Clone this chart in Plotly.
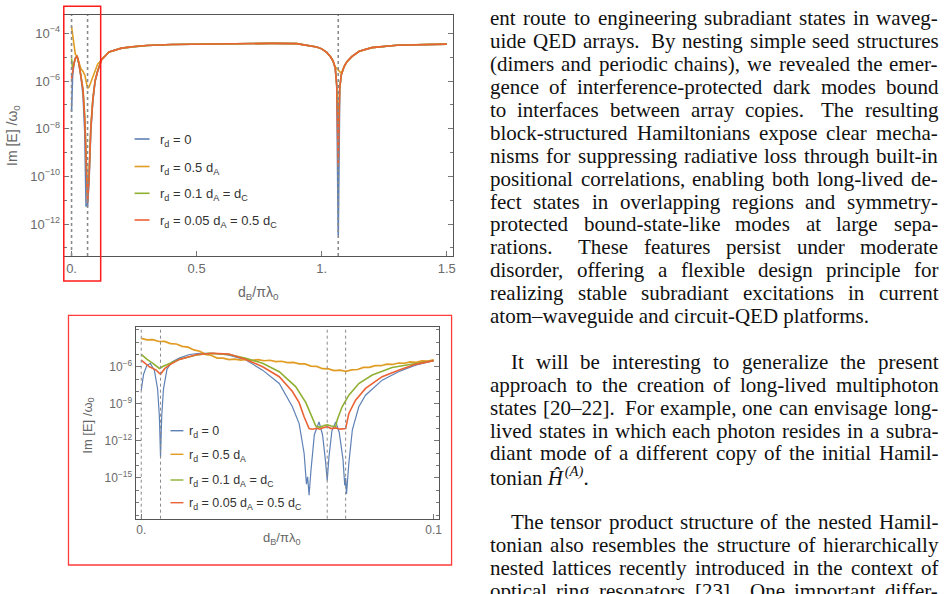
import plotly.graph_objects as go

W, H = 949, 594

# ---------------- DATA (values are log10 of Im[E]/omega_0) ----------------
series_labels = ["r<sub>d</sub> = 0",
                 "r<sub>d</sub> = 0.5 d<sub>A</sub>",
                 "r<sub>d</sub> = 0.1 d<sub>A</sub> = d<sub>C</sub>",
                 "r<sub>d</sub> = 0.05 d<sub>A</sub> = 0.5 d<sub>C</sub>"]
series_colors = ["#5E81B5", "#E19C24", "#8FB032", "#EB6235"]

# top panel: small-separation segment (per series)
top_left_x = [0.0, 0.004, 0.009, 0.015, 0.022, 0.03, 0.038, 0.046, 0.053, 0.058, 0.064, 0.07, 0.077, 0.085, 0.094, 0.104]
top_left_blue = [-7.29, -5.8, -5.3, -5.05, -4.95, -5.32, -5.85, -6.6, -8.2, -11.24, -11.24, -10.2, -8.1, -6.85, -6.02, -5.6]
top_left_orange = [-3.72, -4.0, -4.45, -4.88, -4.95, -5.2, -5.5, -5.6, -5.75, -6.0, -6.31, -6.25, -6.05, -5.78, -5.5, -5.3]
top_left_green = [-5.05, -5.5, -5.3, -5.05, -4.95, -5.3, -5.8, -6.35, -7.5, -9.0, -10.8, -9.9, -7.9, -6.75, -5.98, -5.58]
top_left_red = [-5.9, -5.6, -5.3, -5.05, -4.95, -5.3, -5.8, -6.4, -7.64, -9.2, -11.1, -10.0, -8.0, -6.8, -6.0, -5.6]
# top panel: common plateau
top_mid_x = [0.12, 0.15, 0.2, 0.25, 0.3, 0.4, 0.5, 0.6, 0.7, 0.8, 0.9, 0.95, 0.98, 1.0, 1.02, 1.035, 1.045]
top_mid = [-5.1, -4.78, -4.62, -4.55, -4.51, -4.47, -4.45, -4.43, -4.42, -4.42, -4.43, -4.5, -4.57, -4.65, -4.8, -4.98, -5.15]
# top panel: second dip (per series)
top_dip_x = [1.054, 1.06, 1.066, 1.072, 1.078]
top_dip_blue = [-5.45, -6.2, -12.46, -6.3, -5.75]
top_dip_orange = [-5.4, -5.48, -5.55, -5.62, -5.68]
top_dip_green = [-5.45, -6.2, -8.0, -6.3, -5.75]
top_dip_red = [-5.45, -6.2, -9.6, -6.3, -5.75]
# top panel: common tail
top_tail_x = [1.09, 1.1, 1.12, 1.15, 1.2, 1.3, 1.4, 1.5]
top_tail = [-5.38, -5.2, -4.98, -4.75, -4.6, -4.5, -4.47, -4.45]
top_marks = [0.0, 0.064, 1.066]

# bottom panel (zoom 0 .. 0.1)
bot_blue_x = [0, 0.0008, 0.0019, 0.0031, 0.0045, 0.0056, 0.0062, 0.0066, 0.007, 0.0076, 0.0088, 0.0105, 0.013,
              0.0165, 0.02, 0.025, 0.03, 0.0358, 0.0415, 0.0472, 0.0517, 0.054, 0.0557, 0.0565, 0.0569, 0.0574,
              0.058, 0.0592, 0.0608, 0.062, 0.063, 0.0636, 0.0642, 0.0652, 0.0665, 0.0677, 0.069, 0.0696, 0.0699,
              0.0702, 0.071, 0.0722, 0.0744, 0.0767, 0.0824, 0.088, 0.0938, 0.1]
bot_blue = [-7.9, -6.6, -5.9, -5.72, -6.3, -7.8, -10.0, -13.3, -10.0, -7.8, -6.2, -5.6, -5.3,
            -5.0, -4.9, -4.9, -5.05, -5.45, -6.27, -7.35, -9.24, -10.6, -13.0, -15.5, -14.9, -16.4,
            -14.5, -11.5, -10.46, -11.5, -13.6, -15.2, -13.3, -11.2, -10.46, -11.3, -13.5, -15.6, -15.0,
            -16.3, -13.8, -11.1, -9.24, -8.3, -7.08, -6.4, -5.86, -5.5]
bot_orange_x = [0.0, 0.002, 0.004, 0.006, 0.008, 0.01, 0.012, 0.014, 0.016, 0.018, 0.02, 0.022, 0.024, 0.026,
                0.028, 0.03, 0.032, 0.034, 0.036, 0.038, 0.04, 0.042, 0.044, 0.046, 0.048, 0.05, 0.052, 0.054,
                0.056, 0.058, 0.06, 0.062, 0.064, 0.066, 0.068, 0.07, 0.072, 0.074, 0.076, 0.078, 0.08, 0.082,
                0.084, 0.086, 0.088, 0.09, 0.092, 0.094, 0.096, 0.098, 0.1]
bot_orange = [-3.70, -3.82, -3.80, -3.95, -3.94, -4.12, -4.15, -4.34, -4.41, -4.63, -4.74, -4.99, -5.08, -5.29,
              -5.30, -5.42, -5.37, -5.46, -5.40, -5.48, -5.42, -5.51, -5.47, -5.58, -5.55, -5.66, -5.64, -5.76,
              -5.77, -5.94, -5.97, -6.15, -6.17, -6.30, -6.27, -6.36, -6.25, -6.22, -6.05, -6.04, -5.90, -5.91,
              -5.79, -5.81, -5.69, -5.71, -5.60, -5.63, -5.52, -5.54, -5.44]
bot_green_x = [0, 0.002, 0.004, 0.0062, 0.0075, 0.0096, 0.013, 0.0188, 0.0233, 0.03, 0.0358, 0.0415, 0.0472,
               0.0528, 0.0563, 0.0597, 0.061, 0.0625, 0.0636, 0.065, 0.0665, 0.067, 0.0687, 0.071, 0.0744,
               0.079, 0.0858, 0.0938, 0.1]
bot_green = [-4.99, -5.4, -5.72, -6.13, -5.95, -5.72, -5.4, -5.05, -4.91, -5.0, -5.3, -5.72, -6.4,
             -7.6, -8.9, -10.8, -10.9, -10.75, -10.7, -10.8, -10.85, -10.3, -9.24, -8.3, -7.35,
             -6.67, -6.05, -5.73, -5.5]
bot_red_x = [0, 0.0028, 0.005, 0.0066, 0.008, 0.0096, 0.013, 0.0188, 0.0244, 0.03, 0.0358, 0.0415, 0.0472,
             0.0517, 0.054, 0.0557, 0.0574, 0.0585, 0.06, 0.061, 0.062, 0.0636, 0.065, 0.0665, 0.068, 0.0699,
             0.071, 0.0733, 0.0767, 0.0824, 0.088, 0.0938, 0.1]
bot_red = [-5.46, -6.0, -6.25, -6.6, -6.15, -5.86, -5.4, -5.02, -4.9, -4.97, -5.4, -6.0, -6.8,
           -8.0, -8.9, -10.05, -11.0, -11.05, -10.98, -11.05, -10.95, -10.85, -11.0, -10.95, -11.05, -11.0,
           -9.78, -8.7, -7.75, -6.8, -6.27, -5.8, -5.5]
bot_marks = [0.0, 0.0066, 0.0636, 0.0699]

top_xticks = [0, 0.5, 1, 1.5]
top_xticktext = ["0.", "0.5", "1.", "1.5"]
top_yticks_exp = [-4, -6, -8, -10, -12]
top_yminor_exp = [-5, -7, -9, -11, -13]
bot_xticks = [0, 0.1]
bot_xticktext = ["0.", "0.1"]
bot_yticks_exp = [-6, -9, -12, -15]
bot_yminor_exp = [-3, -4, -5, -7, -8, -10, -11, -13, -14, -16, -17, -18]

para1 = ["ent route to engineering subradiant states in waveg-",
         "uide QED arrays. By nesting simple seed structures",
         "(dimers and periodic chains), we revealed the emer-",
         "gence of interference-protected dark modes bound",
         "to interfaces between array copies. The resulting",
         "block-structured Hamiltonians expose clear mecha-",
         "nisms for suppressing radiative loss through built-in",
         "positional correlations, enabling both long-lived de-",
         "fect states in overlapping regions and symmetry-",
         "protected bound-state-like modes at large sepa-",
         "rations. These features persist under moderate",
         "disorder, offering a flexible design principle for",
         "realizing stable subradiant excitations in current",
         "atom–waveguide and circuit-QED platforms."]
para2 = ["It will be interesting to generalize the present",
         "approach to the creation of long-lived multiphoton",
         "states [20–22]. For example, one can envisage long-",
         "lived states in which each photon resides in a subra-",
         "diant mode of a different copy of the initial Hamil-",
         "tonian <i>Ĥ</i>\u200a<sup><i>(A)</i></sup>."]
para3 = ["The tensor product structure of the nested Hamil-",
         "tonian also resembles the structure of hierarchically",
         "nested lattices recently introduced in the context of",
         "optical ring resonators [23]. One important differ-"]

# ---------------- FIGURE ----------------
fig = go.Figure()

def lin(v):
    return [10 ** e for e in v]

top_series = [
    top_left_blue + top_mid + top_dip_blue + top_tail,
    top_left_orange + top_mid + top_dip_orange + top_tail,
    top_left_green + top_mid + top_dip_green + top_tail,
    top_left_red + top_mid + top_dip_red + top_tail,
]
top_x = top_left_x + top_mid_x + top_dip_x + top_tail_x
for ys, c in zip(top_series, series_colors):
    fig.add_trace(go.Scatter(x=top_x, y=lin(ys), mode="lines", line=dict(color=c, width=1.6),
                             xaxis="x", yaxis="y", hoverinfo="skip", showlegend=False))

bot_series = [(bot_blue_x, bot_blue, 1.2), (bot_orange_x, bot_orange, 1.7),
              (bot_green_x, bot_green, 1.6), (bot_red_x, bot_red, 1.6)]
for (xs, ys, w), c in zip(bot_series, series_colors):
    fig.add_trace(go.Scatter(x=xs, y=lin(ys), mode="lines", line=dict(color=c, width=w),
                             xaxis="x2", yaxis="y2", hoverinfo="skip", showlegend=False))

SANS = "Liberation Sans"
tickfont = dict(family=SANS, size=13, color="#6a6a6a")
axbase = dict(showline=True, linecolor="#555555", linewidth=1, ticks="inside", tickcolor="#777777",
              showgrid=False, zeroline=False)

def sup(e):
    return "10<sup>−%d</sup>" % (-e)

fig.update_layout(
    width=W, height=H, autosize=False, margin=dict(l=0, r=0, t=0, b=0),
    paper_bgcolor="white", plot_bgcolor="white",
    xaxis=dict(axbase, domain=[64 / W, 454 / W], range=[-0.031, 1.523], anchor="y",
               tickvals=top_xticks, ticktext=top_xticktext, ticklen=5, mirror=True, tickfont=tickfont),
    yaxis=dict(axbase, domain=[1 - 256 / H, 1 - 15 / H], type="log", range=[-13.34, -3.23], anchor="x",
               tickvals=[10 ** e for e in top_yticks_exp], ticktext=[sup(e) for e in top_yticks_exp],
               ticklen=5, mirror="allticks", tickfont=tickfont,
               minor=dict(tickvals=[10 ** e for e in top_yminor_exp], ticklen=3, ticks="inside", tickcolor="#777777")),
    xaxis2=dict(axbase, domain=[136 / W, 440.3 / W], range=[-0.00194, 0.1018], anchor="y2",
                tickvals=bot_xticks, ticktext=bot_xticktext, ticklen=5, mirror=True,
                tickfont=dict(tickfont, size=12)),
    yaxis2=dict(axbase, domain=[1 - 518.7 / H, 1 - 327.3 / H], type="log", range=[-18.3, -2.8], anchor="x2",
                tickvals=[10 ** e for e in bot_yticks_exp], ticktext=[sup(e) for e in bot_yticks_exp],
                ticklen=5, mirror="allticks", tickfont=dict(tickfont, size=12),
                minor=dict(tickvals=[10 ** e for e in bot_yminor_exp], ticklen=3, ticks="inside", tickcolor="#777777")),
)

shapes = []
for m in top_marks:
    shapes.append(dict(type="line", xref="x", yref="y domain", x0=m, x1=m, y0=0, y1=1, layer="above",
                       line=dict(color="#8a8a8a", width=1.6, dash="dot")))
for m in bot_marks:
    shapes.append(dict(type="line", xref="x2", yref="y2 domain", x0=m, x1=m, y0=0, y1=1, layer="above",
                       line=dict(color="#8a8a8a", width=1, dash="3px,3px")))
# red highlight boxes
shapes.append(dict(type="rect", xref="paper", yref="paper", x0=64 / W, x1=101 / W, y0=1 - 281 / H, y1=1 - 6.3 / H,
                   line=dict(color="#ff1a1a", width=1.5), fillcolor="rgba(0,0,0,0)", layer="above"))
shapes.append(dict(type="rect", xref="paper", yref="paper", x0=68.7 / W, x1=453 / W, y0=1 - 565 / H, y1=1 - 315.3 / H,
                   line=dict(color="#ff3b3b", width=1.3), fillcolor="rgba(0,0,0,0)", layer="above"))

ann = []
# legends (drawn manually to match the compact Mathematica legend)
top_leg_y = [139, 166.5, 193.3, 220]
bot_leg_y = [430.7, 454.3, 480, 502.7]
for lab, c, yy in zip(series_labels, series_colors, top_leg_y):
    shapes.append(dict(type="line", xref="paper", yref="paper", x0=135 / W, x1=150 / W, y0=1 - yy / H, y1=1 - yy / H,
                       line=dict(color=c, width=1.6)))
    ann.append(dict(text=lab, xref="paper", yref="paper", x=158 / W, y=1 - (yy + 1.5) / H, xanchor="left",
                    yanchor="middle", showarrow=False, font=dict(family=SANS, size=13, color="#333")))
for lab, c, yy in zip(series_labels, series_colors, bot_leg_y):
    shapes.append(dict(type="line", xref="paper", yref="paper", x0=171 / W, x1=184 / W, y0=1 - yy / H, y1=1 - yy / H,
                       line=dict(color=c, width=1.4)))
    ann.append(dict(text=lab, xref="paper", yref="paper", x=188 / W, y=1 - (yy + 1.5) / H, xanchor="left",
                    yanchor="middle", showarrow=False, font=dict(family=SANS, size=12.5, color="#333")))

# axis titles
ytitle = "Im [E] /ω<sub>0</sub>"
xtitle = "d<sub>B</sub>/πλ<sub>0</sub>"
ann.append(dict(text=ytitle, xref="paper", yref="paper", x=13 / W, y=1 - 135 / H, textangle=-90,
                showarrow=False, xanchor="center", yanchor="middle", font=dict(family=SANS, size=14, color="#666")))
ann.append(dict(text=ytitle, xref="paper", yref="paper", x=88 / W, y=1 - 426 / H, textangle=-90,
                showarrow=False, xanchor="center", yanchor="middle", font=dict(family=SANS, size=13, color="#666")))
ann.append(dict(text=xtitle, xref="paper", yref="paper", x=259 / W, y=1 - 293 / H,
                showarrow=False, xanchor="center", yanchor="middle", font=dict(family=SANS, size=14, color="#666")))
ann.append(dict(text=xtitle, xref="paper", yref="paper", x=282 / W, y=1 - 538 / H,
                showarrow=False, xanchor="center", yanchor="middle", font=dict(family=SANS, size=13, color="#666")))

# ---------------- body text (justified word by word) ----------------
FS = 21
SERIF = "Liberation Serif"
_w = {" ": 250}
for ch, v in zip("abcdefghijklmnopqrstuvwxyz",
                 [444, 500, 444, 500, 444, 333, 500, 500, 278, 278, 500, 278, 778, 500, 500, 500, 500, 333, 389,
                  278, 500, 500, 722, 500, 500, 444]):
    _w[ch] = v
for ch, v in zip("ABCDEFGHIJKLMNOPQRSTUVWXYZ",
                 [722, 667, 667, 722, 611, 556, 722, 722, 333, 389, 722, 611, 889, 722, 722, 556, 722, 667, 556,
                  611, 722, 722, 944, 722, 722, 611]):
    _w[ch] = v
for ch in "0123456789":
    _w[ch] = 500
_w.update({".": 250, ",": 250, "-": 333, "(": 333, ")": 333, "[": 333, "]": 333, "–": 500, ":": 278, ";": 278})

X0, X1 = 491.7, 941.0
INDENT = 20.5

def word_w(wd):
    return sum(_w.get(c, 500) for c in wd) * FS / 1000

def text_ann(txt, x, yc):
    return dict(text=txt, xref="paper", yref="paper",
                x=x / W, y=1 - yc / H, xanchor="left", yanchor="middle", showarrow=False,
                borderpad=0, borderwidth=0, font=dict(family=SERIF, size=FS, color="#111"))

def add_para(lines, k0, indent, last_justified):
    for i, line in enumerate(lines):
        yc = 25.5 + 22.9 * (k0 + i) - 7.1
        x0 = X0 + (indent if i == 0 else 0)
        justify = (i < len(lines) - 1) or last_justified
        if not justify:
            ann.append(text_ann(line, x0, yc))
            continue
        words = line.split()
        widths = [word_w(wd) for wd in words]
        weights = [1.6 if wd.endswith(".") else 1.0 for wd in words[:-1]]
        unit = ((X1 - x0) - sum(widths)) / sum(weights)
        x = x0
        for j, wd in enumerate(words):
            ann.append(text_ann(wd, x, yc))
            if j < len(words) - 1:
                x += widths[j] + unit * weights[j]

add_para(para1, 0, 0, False)
add_para(para2, 15, INDENT, False)
add_para(para3, 22, INDENT, True)

fig.update_layout(shapes=shapes, annotations=ann)
fig.write_html("out.html")
